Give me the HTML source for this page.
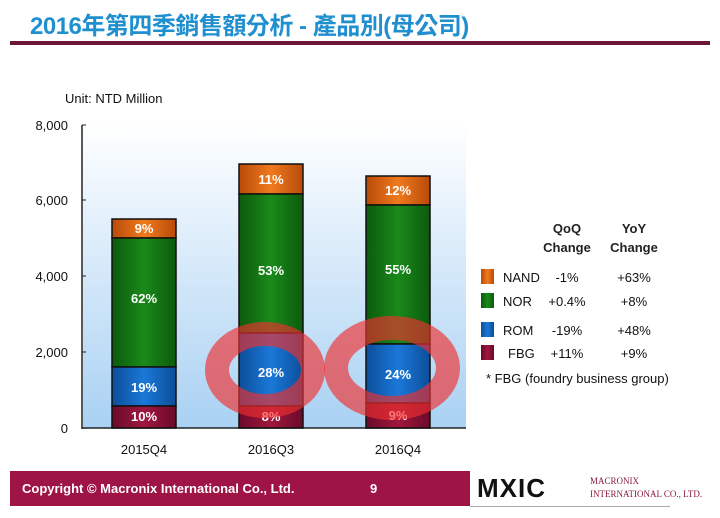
<!DOCTYPE html><html><head><meta charset="utf-8"><style>
body{margin:0;width:720px;height:518px;background:#fff;overflow:hidden;font-family:"Liberation Sans","Noto Sans CJK TC",sans-serif;position:relative}
.a{position:absolute;white-space:nowrap}
</style></head><body>
<div class="a" style="left:30px;top:6px;font-size:24px;font-weight:bold;color:#1f8fcf;letter-spacing:-0.5px">2016年第四季銷售額分析 - 產品別(母公司)</div>
<div class="a" style="left:10px;top:41px;width:700px;height:4px;background:#6e1538"></div>
<div class="a" style="left:65px;top:91px;font-size:13px;color:#111">Unit: NTD Million</div>
<svg class="a" style="left:0;top:0" width="720" height="518">
<defs>
<linearGradient id="bg" x1="0" y1="0" x2="0" y2="1"><stop offset="0" stop-color="#fff"/><stop offset="1" stop-color="#a9d1f3"/></linearGradient>
<linearGradient id="g" x1="0" x2="1"><stop offset="0" stop-color="#0c5a0c"/><stop offset=".5" stop-color="#1a8a1a"/><stop offset="1" stop-color="#0c5a0c"/></linearGradient>
<linearGradient id="o" x1="0" x2="1"><stop offset="0" stop-color="#b84a08"/><stop offset=".5" stop-color="#f07a1e"/><stop offset="1" stop-color="#b84a08"/></linearGradient>
<linearGradient id="b" x1="0" x2="1"><stop offset="0" stop-color="#0c4e9a"/><stop offset=".5" stop-color="#1a78d8"/><stop offset="1" stop-color="#0c4e9a"/></linearGradient>
<linearGradient id="r" x1="0" x2="1"><stop offset="0" stop-color="#6a0a2a"/><stop offset=".5" stop-color="#a0173e"/><stop offset="1" stop-color="#6a0a2a"/></linearGradient>
</defs>
<rect x="83" y="122" width="383" height="306" fill="url(#bg)"/>
<line x1="82" y1="125" x2="82" y2="429" stroke="#222" stroke-width="1.5"/>
<line x1="82" y1="428" x2="466" y2="428" stroke="#222" stroke-width="1.5"/>
<g stroke="#222"><line x1="82" y1="125" x2="86" y2="125"/><line x1="82" y1="200" x2="86" y2="200"/><line x1="82" y1="276" x2="86" y2="276"/><line x1="82" y1="352" x2="86" y2="352"/></g>
<g font-size="13" fill="#111" text-anchor="end"><text x="68" y="130">8,000</text><text x="68" y="205">6,000</text><text x="68" y="281">4,000</text><text x="68" y="357">2,000</text><text x="68" y="433">0</text></g>
<g stroke="#111" stroke-width="1.5">
<rect x="112" y="219" width="64" height="19" fill="url(#o)"/><rect x="112" y="238" width="64" height="129" fill="url(#g)"/><rect x="112" y="367" width="64" height="39" fill="url(#b)"/><rect x="112" y="406" width="64" height="22" fill="url(#r)"/>
<rect x="239" y="164" width="64" height="30" fill="url(#o)"/><rect x="239" y="194" width="64" height="139" fill="url(#g)"/><rect x="239" y="333" width="64" height="73" fill="url(#b)"/><rect x="239" y="406" width="64" height="22" fill="url(#r)"/>
<rect x="366" y="176" width="64" height="29" fill="url(#o)"/><rect x="366" y="205" width="64" height="139" fill="url(#g)"/><rect x="366" y="344" width="64" height="59" fill="url(#b)"/><rect x="366" y="403" width="64" height="25" fill="url(#r)"/>
</g>
<g font-size="13" font-weight="bold" fill="#fff" text-anchor="middle">
<text x="144" y="233">9%</text><text x="144" y="303">62%</text><text x="144" y="392">19%</text><text x="144" y="421">10%</text>
<text x="271" y="184">11%</text><text x="271" y="275">53%</text><text x="271" y="377">28%</text><text x="271" y="421">8%</text>
<text x="398" y="195">12%</text><text x="398" y="274">55%</text><text x="398" y="379">24%</text><text x="398" y="420">9%</text>
</g>
<g font-size="13" fill="#111" text-anchor="middle"><text x="144" y="454">2015Q4</text><text x="271" y="454">2016Q3</text><text x="398" y="454">2016Q4</text></g>
<g fill="none" stroke="#f03030" stroke-opacity=".65" stroke-width="24">
<ellipse cx="265" cy="370" rx="48" ry="36"/>
<ellipse cx="392" cy="368" rx="56" ry="40"/>
</g>
<g font-size="13" font-weight="bold" fill="#222" text-anchor="middle"><text x="567" y="233">QoQ</text><text x="567" y="252">Change</text><text x="634" y="233">YoY</text><text x="634" y="252">Change</text></g>
<rect x="481" y="269" width="13" height="15" fill="url(#o)"/><rect x="481" y="293" width="13" height="15" fill="url(#g)"/><rect x="481" y="322" width="13" height="15" fill="url(#b)"/><rect x="481" y="345" width="13" height="15" fill="url(#r)"/>
<g font-size="13" fill="#111"><text x="503" y="282">NAND</text><text x="503" y="306">NOR</text><text x="503" y="335">ROM</text><text x="508" y="358">FBG</text>
<text x="567" y="282" text-anchor="middle">-1%</text><text x="567" y="306" text-anchor="middle">+0.4%</text><text x="567" y="335" text-anchor="middle">-19%</text><text x="567" y="358" text-anchor="middle">+11%</text>
<text x="634" y="282" text-anchor="middle">+63%</text><text x="634" y="306" text-anchor="middle">+8%</text><text x="634" y="335" text-anchor="middle">+48%</text><text x="634" y="358" text-anchor="middle">+9%</text>
<text x="486" y="383">* FBG (foundry business group)</text></g>
</svg>
<div class="a" style="left:10px;top:471px;width:460px;height:35px;background:#9e1445"></div>
<div class="a" style="left:22px;top:481px;font-size:13px;font-weight:bold;color:#fff">Copyright © Macronix International Co., Ltd.</div>
<div class="a" style="left:370px;top:481px;font-size:13px;font-weight:bold;color:#fff">9</div>
<div class="a" style="left:477px;top:473px;font-size:26px;font-weight:900;color:#111;letter-spacing:1px;font-family:'Liberation Sans',sans-serif">MXIC</div>
<div class="a" style="left:590px;top:475px;font-size:9px;color:#8a1a3a;font-family:'Liberation Serif',serif;line-height:13px">MACRONIX<br>INTERNATIONAL CO., LTD.</div>
<div class="a" style="left:470px;top:506px;width:200px;height:1px;background:#aaa"></div>
</body></html>
